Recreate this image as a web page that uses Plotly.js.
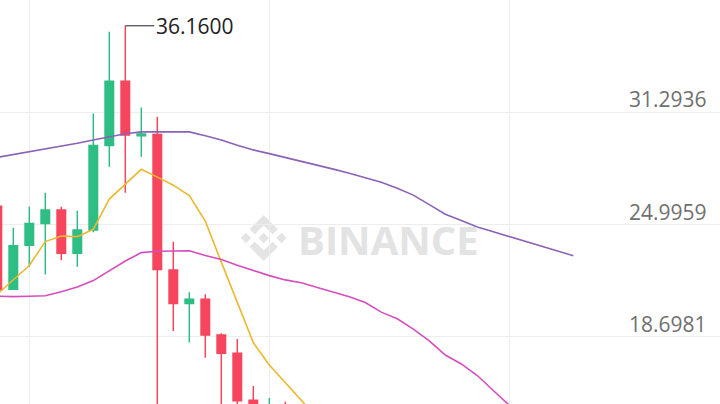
<!DOCTYPE html>
<html><head><meta charset="utf-8">
<script src="https://cdn.plot.ly/plotly-3.0.1.min.js"></script>
<style>html,body{margin:0;padding:0;background:#fff}#chart{width:720px;height:404px}</style>
</head><body><div id="chart"></div>
<script>
// ---- data ----
const candleIdx = [0,1,2,3,4,5,6,7,8,9,10,11,12,13,14,15,16,17,18];
const opens  = [26.03,21.36,23.83,25.06,25.81,23.38,24.69,29.44,33.05,29.98,30.06,22.44,20.57,20.80,18.79,17.77,15.13,14.10,14.70];
const closes = [21.32,23.81,25.06,25.81,23.38,24.69,29.44,33.05,30.02,30.08,22.48,20.57,20.80,18.79,17.77,15.11,14.20,14.60,14.00];
const highs  = [26.10,24.82,26.00,26.78,26.00,25.77,31.24,35.82,36.16,31.57,31.05,24.03,21.19,21.08,18.89,18.57,15.93,15.26,15.05];
const lows   = [21.20,21.32,22.63,22.20,23.00,22.63,24.57,28.24,26.78,28.80,13.00,19.02,18.38,17.52,14.00,14.30,13.80,13.60,13.50];

const ma7  = [21.09,21.89,22.70,24.04,24.35,24.32,24.73,26.43,27.24,28.10,27.66,27.21,26.62,25.19,22.89,20.62,18.37,17.11,16.10,15.09,14.14,13.35];
const ma25 = [20.98,20.95,20.97,21.00,21.23,21.49,21.85,22.39,22.95,23.42,23.50,23.51,23.53,23.26,23.03,22.71,22.41,22.13,21.89,21.73,21.46,21.21,20.95,20.62,20.08,19.71,19.13,18.46,17.67,17.17,16.52,15.68,14.81,14.02];
const ma99 = [28.77,28.92,29.08,29.23,29.40,29.56,29.75,29.93,30.10,30.20,30.20,30.20,30.20,29.99,29.75,29.45,29.19,28.98,28.77,28.55,28.34,28.11,27.88,27.63,27.38,27.04,26.65,26.12,25.58,25.22,24.86,24.59,24.32,24.06,23.79,23.51,23.25];

const yTickVals = [18.6981, 24.9959, 31.2936, 37.5913];
const yTickLabels = ['18.6981', '24.9959', '31.2936'];
const xGridVals = [2, 17, 32];

// ---- styles ----
const GREEN = '#2EBD85', RED = '#F6465D';
const idxOf = n => Array.from({length: n}, (_, i) => i);

const traces = [
  {
    type: 'candlestick', x: candleIdx, open: opens, high: highs, low: lows, close: closes,
    increasing: {line: {color: GREEN, width: 1.5}, fillcolor: GREEN},
    decreasing: {line: {color: RED, width: 1.5}, fillcolor: RED},
    whiskerwidth: 0, hoverinfo: 'skip'
  },
  {type: 'scatter', mode: 'lines', x: idxOf(ma7.length), y: ma7, line: {color: '#EBB82F', width: 1.6}, hoverinfo: 'skip'},
  {type: 'scatter', mode: 'lines', x: idxOf(ma25.length), y: ma25, line: {color: '#D64DBE', width: 1.6}, hoverinfo: 'skip'},
  {type: 'scatter', mode: 'lines', x: idxOf(ma99.length), y: ma99, line: {color: '#8A63B6', width: 1.6}, hoverinfo: 'skip'}
];

// Binance logo watermark (decoration) built as paper-coordinate paths
const W = 720, H = 404;
const logoPolys = [
  [[38.73,53.2],[63.32,28.62],[87.92,53.22],[102.22,38.91],[63.32,0],[24.42,38.9]],
  [[0,63.31],[14.3,49],[28.61,63.31],[14.3,77.61]],
  [[38.73,73.41],[63.32,98],[87.92,73.4],[102.23,87.69],[63.32,126.61],[24.42,87.72]],
  [[98,63.31],[112.3,49],[126.61,63.3],[112.3,77.62]],
  [[77.83,63.3],[63.32,48.78],[48.81,63.28],[63.32,77.78]]
];
const lx = 240.7, ly = 215, ls = 46 / 126.61;
const shapes = logoPolys.map(poly => ({
  type: 'path', xref: 'paper', yref: 'paper', layer: 'below',
  path: poly.map((p, i) => (i ? 'L' : 'M') + ((lx + p[0]*ls)/W).toFixed(5) + ',' + (1 - (ly + p[1]*ls)/H).toFixed(5)).join(' ') + ' Z',
  fillcolor: '#E4E4E4', line: {width: 0}
}));

const annotations = yTickLabels.map((t, i) => ({
  xref: 'paper', yref: 'y', x: 1, y: yTickVals[i], xanchor: 'right', yanchor: 'bottom',
  xshift: -11, yshift: -3, text: t, showarrow: false,
  font: {family: 'Open Sans', size: 21, color: '#707070'}
}));

// max-high label
let maxI = 0;
highs.forEach((h, i) => { if (h > highs[maxI]) maxI = i; });
annotations.push({
  x: candleIdx[maxI], y: highs[maxI], xref: 'x', yref: 'y', text: highs[maxI].toFixed(4),
  showarrow: true, arrowhead: 0, arrowwidth: 1, arrowcolor: '#1E2026', ax: 29, ay: 0,
  xanchor: 'left', yanchor: 'middle', standoff: 0, startstandoff: 0,
  font: {family: 'Open Sans', size: 21, color: '#1E2026'}
});

annotations.push({
  xref: 'paper', yref: 'paper', x: 388/W, y: 1 - 239.3/H, xanchor: 'center', yanchor: 'middle',
  text: '<b>BINANCE</b>', showarrow: false,
  font: {family: 'Open Sans', size: 40, color: '#E3E3E3'}
});

const layout = {
  width: W, height: H, margin: {l: 0, r: 0, t: 0, b: 0},
  paper_bgcolor: '#ffffff', plot_bgcolor: '#ffffff', showlegend: false,
  boxgap: 0.24,
  xaxis: {range: [0.169, 45.169], tickvals: xGridVals, showticklabels: false, showgrid: true,
          gridcolor: '#EDEDED', gridwidth: 1, zeroline: false, showline: false, ticks: '',
          rangeslider: {visible: false}, fixedrange: true},
  yaxis: {range: [14.921, 37.608], tickvals: yTickVals, showticklabels: false, showgrid: true,
          gridcolor: '#EDEDED', gridwidth: 1, zeroline: false, showline: false, ticks: '', fixedrange: true},
  shapes: shapes, annotations: annotations, hovermode: false
};

Plotly.newPlot('chart', traces, layout, {displayModeBar: false, staticPlot: true});
</script></body></html>
